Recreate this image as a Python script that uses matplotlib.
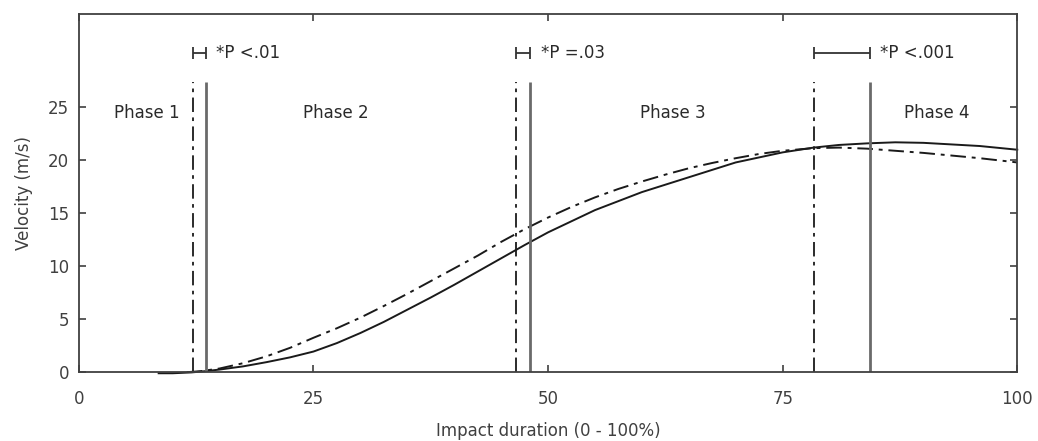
import matplotlib
matplotlib.use("Agg")
import matplotlib.pyplot as plt

plt.rcParams['font.family'] = ['DejaVu Sans']

# mean velocity curves
solid_x = [8.5, 10, 12, 13.5, 15, 17.5, 20, 22.5, 25, 27.5, 30, 32.5, 35, 37.5,
           40, 42.5, 45, 47.5, 50, 55, 60, 65, 70, 75, 78.3, 81, 84, 87, 90,
           93, 96, 100]
solid_y = [-0.1, -0.1, -0.02, 0.1, 0.25, 0.55, 0.95, 1.4, 1.95, 2.75, 3.7, 4.75,
           5.9, 7.05, 8.25, 9.5, 10.75, 12.0, 13.2, 15.3, 17.0, 18.4, 19.8, 20.75,
           21.2, 21.45, 21.6, 21.7, 21.65, 21.5, 21.35, 21.0]
dash_x = [11.5, 13, 15, 17.5, 20, 22.5, 25, 27.5, 30, 32.5, 35, 37.5, 40, 42.5,
          45, 47.5, 50, 52.5, 55, 57.5, 60, 62.5, 65, 67.5, 70, 72.5, 75, 78.3,
          81, 84, 87, 90, 93, 96, 100]
dash_y = [0.0, 0.1, 0.35, 0.85, 1.5, 2.3, 3.25, 4.15, 5.15, 6.25, 7.4, 8.6, 9.8,
          11.0, 12.3, 13.5, 14.6, 15.6, 16.5, 17.3, 18.0, 18.65, 19.25, 19.75,
          20.2, 20.6, 20.9, 21.15, 21.2, 21.1, 20.9, 20.7, 20.45, 20.2, 19.8]

# phase boundaries (dash-dot = one condition, solid = other)
bound_dash = [12.2, 46.6, 78.3]
bound_solid = [13.5, 48.1, 84.3]
p_labels = ['*P <.01', '*P =.03', '*P <.001']

phase_names = ['Phase 1', 'Phase 2', 'Phase 3', 'Phase 4']
phase_x = [7.2, 27.4, 63.3, 91.4]

gray = '#404040'
fs = 12

fig, ax = plt.subplots(figsize=(10.38, 4.41), dpi=100)
fig.subplots_adjust(left=0.076, right=0.98, top=0.968, bottom=0.156)

ax.plot(solid_x, solid_y, color='#1a1a1a', lw=1.4, clip_on=False)
ax.plot(dash_x, dash_y, color='#1a1a1a', lw=1.4, linestyle=(0, (8, 3, 2, 3)))

for xd, xs, lab in zip(bound_dash, bound_solid, p_labels):
    ax.vlines(xd, 0, 27.4, colors='#1a1a1a', lw=1.3, linestyles=(0, (8, 3, 2, 3)))
    ax.vlines(xs, 0, 27.4, colors='#6a6a6a', lw=2.0)
    ax.errorbar([(xd + xs) / 2], [30.1], xerr=[[(xs - xd) / 2], [(xs - xd) / 2]],
                fmt='none', ecolor='#333333', elinewidth=1.3, capsize=4, capthick=1.3)
    ax.text(xs + 1.1, 30.1, lab, ha='left', va='center', fontsize=fs, color='#2a2a2a')

for name, px in zip(phase_names, phase_x):
    ax.text(px, 24.5, name, ha='center', va='center', fontsize=fs, color='#2a2a2a')

ax.set_xlim(0, 100)
ax.set_ylim(0, 33.8)
ax.set_xticks([0, 25, 50, 75, 100])
ax.set_yticks([0, 5, 10, 15, 20, 25])
ax.tick_params(direction='in', top=True, right=True, length=5, width=1.2,
               color=gray, labelcolor=gray, labelsize=fs, pad=7)
ax.tick_params(axis='x', pad=13)
for sp in ax.spines.values():
    sp.set_color(gray)
    sp.set_linewidth(1.3)

ax.set_xlabel('Impact duration (0 - 100%)', fontsize=fs, color=gray, labelpad=10)
ax.set_ylabel('Velocity (m/s)', fontsize=fs, color=gray, labelpad=11)

fig.savefig('out.png', dpi=100)
